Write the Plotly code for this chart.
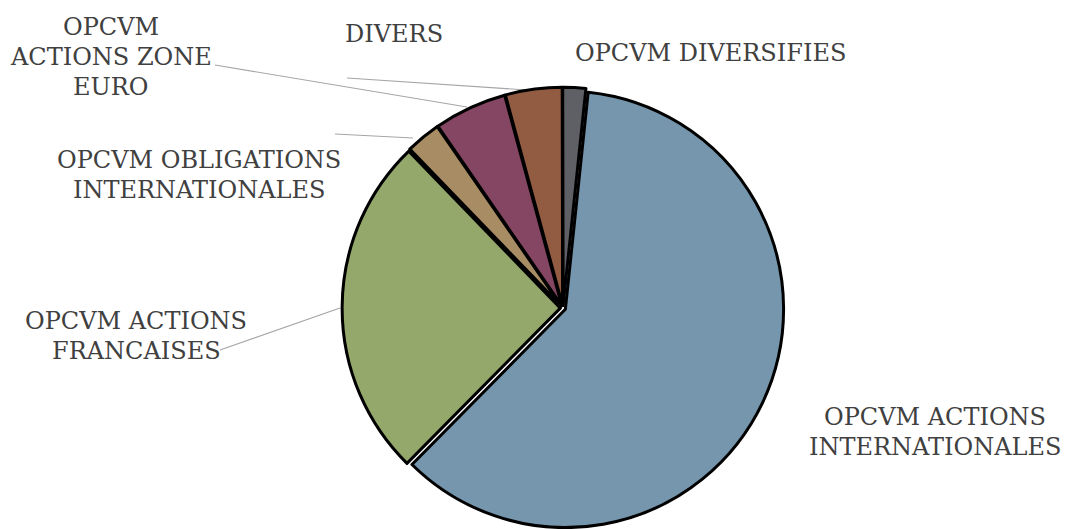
import plotly.graph_objects as go

# Data (shares in %)
categories = ["OPCVM ACTIONS INTERNATIONALES", "OPCVM ACTIONS FRANCAISES",
              "OPCVM OBLIGATIONS INTERNATIONALES", "OPCVM ACTIONS ZONE EURO",
              "DIVERS", "OPCVM DIVERSIFIES"]
values = [60.8, 25.4, 2.6, 5.4, 4.2, 1.7]
colors = ["#7596AC", "#93A86A", "#A88C64", "#844662", "#915C42", "#5F5F66"]

# label lines and their pixel positions (center x, first-line center y)
label_lines = [["OPCVM ACTIONS", "INTERNATIONALES"],
               ["OPCVM ACTIONS", "FRANCAISES"],
               ["OPCVM OBLIGATIONS", "INTERNATIONALES"],
               ["OPCVM", "ACTIONS ZONE", "EURO"],
               ["DIVERS"],
               ["OPCVM DIVERSIFIES"]]
label_pos = [(935, 417), (136, 321), (199, 160), (111, 26.5), (393.5, 33.5), (710, 53.5)]
line_gap = 30
leaders = [None, ((220, 350), (340, 308)), ((335, 134), (413, 138)),
           ((215, 65), (467, 107)), ((347, 78), (527, 90)), None]

W, H = 1069, 529

fig = go.Figure(go.Pie(
    labels=categories, values=values, sort=False, direction="clockwise",
    rotation=6, textinfo="none", hoverinfo="label+percent",
    marker=dict(colors=colors, line=dict(color="#000000", width=3)),
    pull=[0.012] * len(values),
    domain=dict(x=[0.3, 0.7533], y=[0.0, 0.835]),
    showlegend=False,
))

annotations = []
for lines, (px, py) in zip(label_lines, label_pos):
    for i, ln in enumerate(lines):
        annotations.append(dict(
            text=ln, x=px / W, y=1 - (py + i * line_gap) / H,
            xref="paper", yref="paper",
            showarrow=False, xanchor="center", yanchor="middle", align="center",
            font=dict(family="DejaVu Serif", size=24, color="#404040")))

shapes = []
for ld in leaders:
    if ld is None:
        continue
    (x0, y0), (x1, y1) = ld
    shapes.append(dict(type="line", xref="paper", yref="paper",
                       x0=x0 / W, y0=1 - y0 / H, x1=x1 / W, y1=1 - y1 / H,
                       line=dict(color="#A6A6A6", width=1.2), layer="below"))

fig.update_layout(width=W, height=H, margin=dict(l=0, r=0, t=0, b=0),
                  paper_bgcolor="white", plot_bgcolor="white",
                  annotations=annotations, shapes=shapes)

fig.write_html("out.html", config={"displayModeBar": False},
               post_script="document.body.style.margin='0';")
